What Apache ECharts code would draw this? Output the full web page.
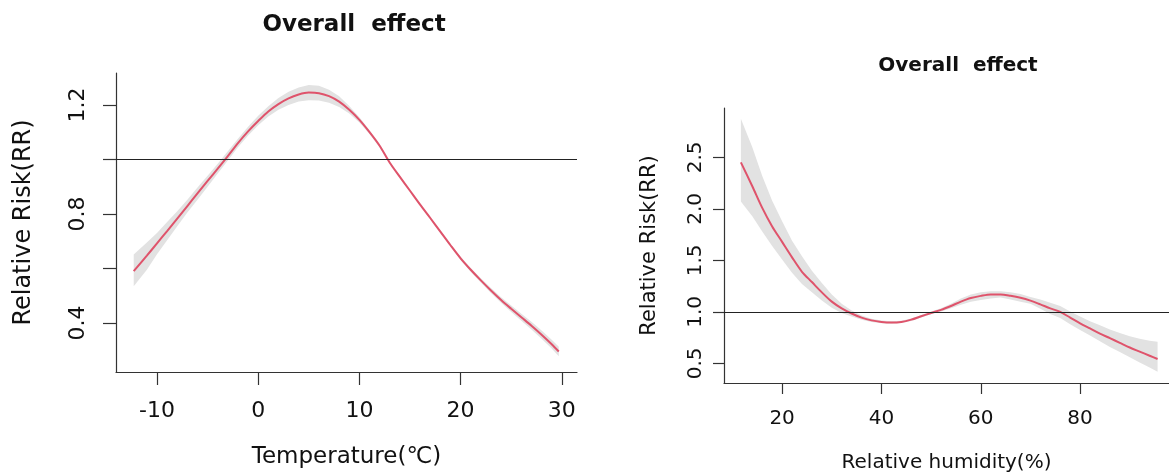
<!DOCTYPE html>
<html>
<head>
    <meta charset="UTF-8">
    <title>Overall effect</title>
    <style>
        html, body { margin: 0; padding: 0; background: #fff; }
        #chart { width: 1169px; height: 473px; }
    </style>
    <script src="https://cdn.jsdelivr.net/npm/echarts@6/dist/echarts.min.js"></script>
</head>
<body>
<div id="chart"></div>
<script>
    // temperature panel
    var tempX    = [-12.3, -11, -10, -9, -8, -7, -6, -5, -4, -3, -2, -1, 0, 1, 2, 3, 4, 5, 6, 7, 8, 9, 10, 11, 12, 13, 14, 15, 16, 17, 18, 19, 20, 21, 22, 23, 24, 25, 26, 27, 28, 29, 29.7];
    var tempRR   = [0.59, 0.647, 0.692, 0.737, 0.783, 0.829, 0.875, 0.921, 0.966, 1.012, 1.06, 1.103, 1.141, 1.176, 1.203, 1.224, 1.238, 1.245, 1.243, 1.232, 1.212, 1.182, 1.145, 1.1, 1.05, 0.988, 0.936, 0.885, 0.834, 0.785, 0.735, 0.685, 0.637, 0.595, 0.556, 0.519, 0.484, 0.452, 0.421, 0.39, 0.357, 0.322, 0.295];
    var tempLow  = [0.535, 0.595, 0.652, 0.703, 0.755, 0.805, 0.852, 0.9, 0.948, 0.996, 1.045, 1.088, 1.125, 1.157, 1.182, 1.2, 1.212, 1.217, 1.216, 1.208, 1.192, 1.168, 1.135, 1.093, 1.045, 0.984, 0.932, 0.881, 0.830, 0.781, 0.731, 0.68, 0.631, 0.588, 0.548, 0.51, 0.474, 0.44, 0.408, 0.376, 0.342, 0.306, 0.278];
    var tempHigh = [0.651, 0.695, 0.73, 0.77, 0.81, 0.852, 0.897, 0.94, 0.984, 1.03, 1.076, 1.12, 1.16, 1.195, 1.225, 1.248, 1.264, 1.273, 1.27, 1.256, 1.232, 1.196, 1.155, 1.107, 1.055, 0.992, 0.940, 0.889, 0.838, 0.789, 0.739, 0.69, 0.643, 0.602, 0.564, 0.528, 0.494, 0.464, 0.434, 0.404, 0.372, 0.338, 0.313];
    var tempTicks  = [-10, 0, 10, 20, 30];
    var tempYTicks = [0.4, 0.6, 0.8, 1.0, 1.2];
    var tempYLabels = [0.4, 0.8, 1.2];

    // humidity panel
    var humX    = [11.7, 14, 16, 18, 20, 22, 24, 26, 28, 30, 32, 34, 36, 38, 40, 42, 44, 46, 48, 50, 52, 54, 56, 58, 60, 62, 64, 66, 68, 70, 72, 74, 76, 78, 80, 82, 84, 86, 88, 90, 92, 94, 95.6];
    var humRR   = [2.452, 2.22, 2.01, 1.83, 1.68, 1.53, 1.39, 1.29, 1.19, 1.1, 1.035, 0.985, 0.945, 0.918, 0.903, 0.897, 0.903, 0.925, 0.958, 0.99, 1.02, 1.058, 1.1, 1.135, 1.156, 1.17, 1.17, 1.157, 1.138, 1.11, 1.073, 1.035, 1.0, 0.945, 0.89, 0.84, 0.79, 0.745, 0.7, 0.655, 0.615, 0.575, 0.543];
    var humLow  = [2.073, 1.93, 1.78, 1.64, 1.51, 1.38, 1.27, 1.19, 1.11, 1.04, 0.99, 0.955, 0.925, 0.903, 0.89, 0.885, 0.892, 0.913, 0.946, 0.977, 1.005, 1.035, 1.07, 1.1, 1.117, 1.13, 1.14, 1.12, 1.1, 1.08, 1.03, 0.98, 0.94, 0.88, 0.825, 0.77, 0.715, 0.66, 0.61, 0.56, 0.51, 0.46, 0.42];
    var humHigh = [2.875, 2.6, 2.32, 2.08, 1.88, 1.69, 1.54, 1.4, 1.28, 1.17, 1.08, 1.015, 0.965, 0.933, 0.916, 0.909, 0.915, 0.937, 0.97, 1.003, 1.035, 1.08, 1.13, 1.17, 1.19, 1.2, 1.2, 1.19, 1.175, 1.145, 1.12, 1.09, 1.058, 1.005, 0.955, 0.91, 0.87, 0.83, 0.795, 0.765, 0.74, 0.72, 0.71];
    var humTicks  = [20, 40, 60, 80];
    var humYTicks = [0.5, 1.0, 1.5, 2.0, 2.5];

    var FONT = 'DejaVu Sans';
    var INK = '#111';
    var AXIS = '#333';
    var RED = '#DF536B';
    var BAND = '#E2E2E2';

    function pairs(xs, ys) {
        return xs.map(function (x, i) { return [x, ys[i]]; });
    }

    function xAxisOf(idx, min, max, ticks, name, fs, nameFs, margin, gap, tickLen) {
        return {
            type: 'value', gridIndex: idx, min: min, max: max,
            name: name, nameLocation: 'middle', nameGap: gap,
            nameTextStyle: { fontFamily: FONT, fontSize: nameFs, color: INK },
            axisLine: { show: true, onZero: false, lineStyle: { color: AXIS, width: 1.2 } },
            axisTick: { show: true, inside: false, length: tickLen, customValues: ticks, lineStyle: { color: AXIS, width: 1.2 } },
            axisLabel: { customValues: ticks, margin: margin, fontFamily: FONT, fontSize: fs, color: INK },
            splitLine: { show: false }
        };
    }

    function yAxisOf(idx, min, max, ticks, labels, name, fs, nameFs, margin, gap, tickLen) {
        return {
            type: 'value', gridIndex: idx, min: min, max: max,
            name: name, nameLocation: 'middle', nameGap: gap,
            nameTextStyle: { fontFamily: FONT, fontSize: nameFs, color: INK },
            axisLine: { show: true, onZero: false, lineStyle: { color: AXIS, width: 1.2 } },
            axisTick: { show: true, inside: false, length: tickLen, customValues: ticks, lineStyle: { color: AXIS, width: 1.2 } },
            axisLabel: {
                customValues: labels, rotate: 90, margin: margin,
                fontFamily: FONT, fontSize: fs, color: INK,
                formatter: function (v) { return v.toFixed(1); }
            },
            splitLine: { show: false }
        };
    }

    function panel(idx, xs, rr, lo, hi) {
        return [
            {
                // confidence band as one polygon, points mapped through the axes
                type: 'custom', xAxisIndex: idx, yAxisIndex: idx, silent: true, z: 1,
                data: [[xs[0], rr[0]]],
                renderItem: function (params, api) {
                    var pts = [];
                    for (var i = 0; i < xs.length; i++) pts.push(api.coord([xs[i], hi[i]]));
                    for (var j = xs.length - 1; j >= 0; j--) pts.push(api.coord([xs[j], lo[j]]));
                    return { type: 'polygon', shape: { points: pts }, style: { fill: BAND, stroke: null } };
                }
            },
            {
                type: 'line', xAxisIndex: idx, yAxisIndex: idx,
                data: pairs(xs, rr), symbol: 'none', smooth: 0.3, silent: true,
                lineStyle: { color: RED, width: 2 }, z: 3,
                markLine: {
                    silent: true, symbol: ['none', 'none'], label: { show: false },
                    lineStyle: { color: '#222', width: 1.2, type: 'solid' },
                    data: [{ yAxis: 1 }]
                }
            }
        ];
    }

    var chart = echarts.init(document.getElementById('chart'));
    chart.setOption({
        animation: false,
        backgroundColor: '#fff',
        title: [
            { text: 'Overall  effect', left: 349, top: 9, textAlign: 'center',
              textStyle: { fontFamily: FONT, fontSize: 23, fontWeight: 'bold', color: INK } },
            { text: 'Overall  effect', left: 953, top: 51, textAlign: 'center',
              textStyle: { fontFamily: FONT, fontSize: 20, fontWeight: 'bold', color: INK } }
        ],
        grid: [
            { left: 116, right: 592, top: 73, bottom: 101, outerBoundsMode: 'none' },
            { left: 724, right: 0, top: 108, bottom: 90, outerBoundsMode: 'none' }
        ],
        xAxis: [
            xAxisOf(0, -14.05, 31.5, tempTicks, 'Temperature(℃)', 22, 23, 28, 74, 13),
            xAxisOf(1, 8.3, 97.9, humTicks, 'Relative humidity(%)', 20, 20, 26, 70, 11)
        ],
        yAxis: [
            yAxisOf(0, 0.22, 1.317, tempYTicks, tempYLabels, 'Relative Risk(RR)', 22, 24, 27, 80, 13),
            yAxisOf(1, 0.31, 2.98, humYTicks, humYTicks, 'Relative Risk(RR)', 20, 21, 18, 64, 11)
        ],
        series: panel(0, tempX, tempRR, tempLow, tempHigh).concat(panel(1, humX, humRR, humLow, humHigh))
    });
</script>
</body>
</html>
